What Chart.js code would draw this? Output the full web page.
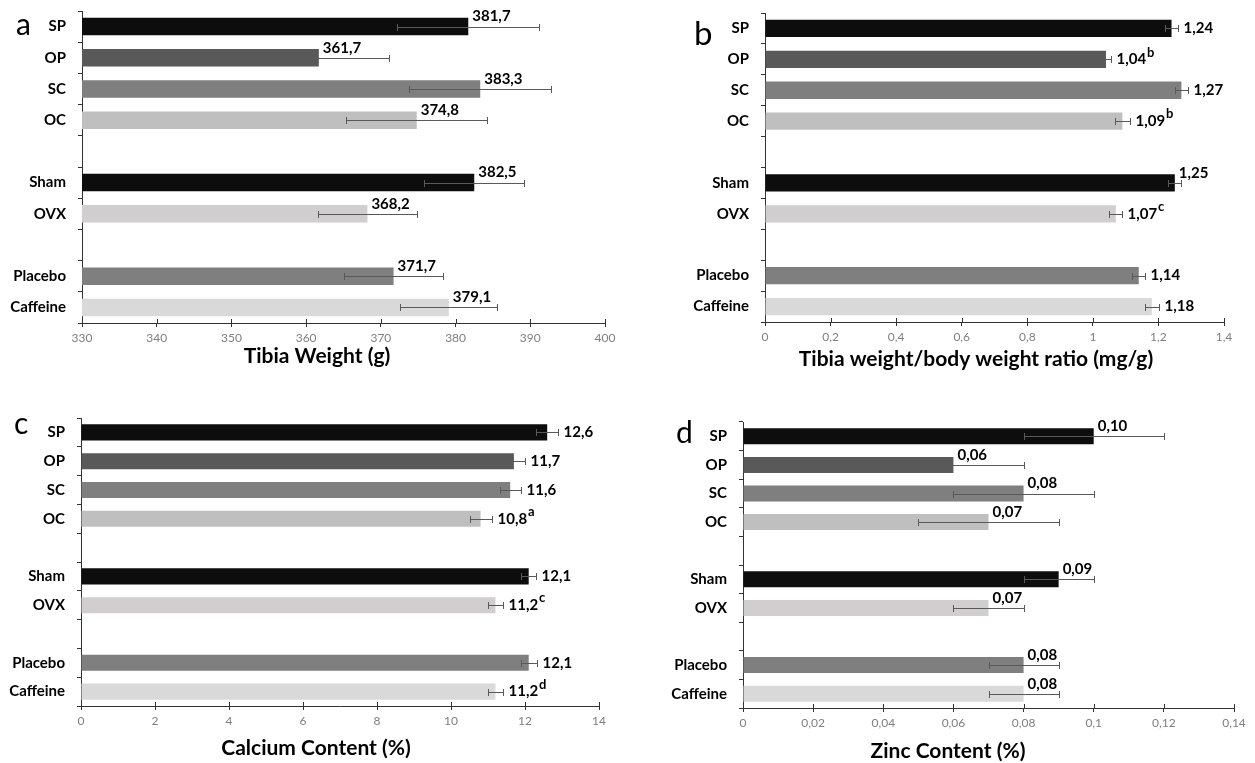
<!DOCTYPE html>
<html>
<head>
<meta charset="utf-8">
<script src="https://cdn.jsdelivr.net/npm/chart.js@4.4.1/dist/chart.umd.min.js"></script>
<style>
  body { margin: 0; background: #fff; width: 1255px; height: 763px; overflow: hidden; }
  .panel { position: absolute; }
</style>
</head>
<body>
<div class="panel" style="left:0;top:0"><canvas id="chartA" width="627" height="385"></canvas></div>
<div class="panel" style="left:627px;top:0"><canvas id="chartB" width="628" height="385"></canvas></div>
<div class="panel" style="left:0;top:385px"><canvas id="chartC" width="627" height="378"></canvas></div>
<div class="panel" style="left:627px;top:385px"><canvas id="chartD" width="628" height="378"></canvas></div>
<script>
// groupes (les cases vides servent d'espace entre les blocs)
const groups = ['SP', 'OP', 'SC', 'OC', '', 'Sham', 'OVX', '', 'Placebo', 'Caffeine'];

// a - poids du tibia
const tibiaWeight = [381.7, 361.7, 383.3, 374.8, null, 382.5, 368.2, null, 371.7, 379.1];
const tibiaWeightErr = [9.5, 9.4, 9.5, 9.4, null, 6.7, 6.6, null, 6.6, 6.5];
const tibiaWeightTicks = [330, 340, 350, 360, 370, 380, 390, 400];

// b - ratio poids tibia / poids corporel
const tibiaRatio = [1.24, 1.04, 1.27, 1.09, null, 1.25, 1.07, null, 1.14, 1.18];
const tibiaRatioErr = [0.02, 0.015, 0.02, 0.022, null, 0.02, 0.02, null, 0.02, 0.022];
const tibiaRatioSup = ['', 'b', '', 'b', '', '', 'c', '', '', ''];
const tibiaRatioTicks = [0, 0.2, 0.4, 0.6, 0.8, 1, 1.2, 1.4];

// c - calcium
const calcium = [12.6, 11.7, 11.6, 10.8, null, 12.1, 11.2, null, 12.1, 11.2];
const calciumErr = [0.3, 0.3, 0.28, 0.3, null, 0.2, 0.2, null, 0.22, 0.2];
const calciumSup = ['', '', '', 'a', '', '', 'c', '', '', 'd'];
const calciumTicks = [0, 2, 4, 6, 8, 10, 12, 14];

// d - zinc
const zinc = [0.10, 0.06, 0.08, 0.07, null, 0.09, 0.07, null, 0.08, 0.08];
const zincErr = [0.02, 0.02, 0.02, 0.02, null, 0.01, 0.01, null, 0.01, 0.01];
const zincTicks = [0, 0.02, 0.04, 0.06, 0.08, 0.1, 0.12, 0.14];

const barColors = ['#0d0d0d', '#595959', '#7f7f7f', '#bfbfbf', null, '#0d0d0d', '#d0cece', null, '#7f7f7f', '#d9d9d9'];
const FONT = 'Lato, "Open Sans", sans-serif';

function comma(v) {
    return String(+v.toFixed(4)).replace('.', ',');
}

// barres d'erreur, valeurs, lettre du panneau et titre de l'axe
const panelExtras = {
    id: 'panelExtras',
    afterDatasetsDraw(chart, args, o) {
        const ctx = chart.ctx;
        const xs = chart.scales.x;
        const meta = chart.getDatasetMeta(0);
        const data = chart.data.datasets[0].data;
        ctx.save();

        // petites graduations au-dessus de l'axe x
        ctx.strokeStyle = '#333';
        ctx.lineWidth = 1;
        ctx.beginPath();
        xs.ticks.forEach(t => {
            const px = Math.round(xs.getPixelForValue(t.value)) + 0.5;
            ctx.moveTo(px, xs.top);
            ctx.lineTo(px, xs.top - 4);
        });
        ctx.stroke();

        data.forEach((v, i) => {
            if (v == null) return;
            const e = o.err[i];
            const cy = Math.round(meta.data[i].y) + 0.5;
            const x0 = Math.round(xs.getPixelForValue(v - e)) + 0.5;
            const x1 = Math.round(xs.getPixelForValue(v + e)) + 0.5;
            ctx.strokeStyle = '#595959';
            ctx.beginPath();
            ctx.moveTo(x0, cy); ctx.lineTo(x1, cy);
            ctx.moveTo(x0, cy - 3.5); ctx.lineTo(x0, cy + 3.5);
            ctx.moveTo(x1, cy - 3.5); ctx.lineTo(x1, cy + 3.5);
            ctx.stroke();

            const barEnd = xs.getPixelForValue(v);
            let tx, ty;
            if (o.mode === 'top' || (o.above || []).includes(i)) {
                tx = barEnd + 4;
                ty = meta.data[i].y - 10;
            } else {
                tx = x1 + 5;
                ty = meta.data[i].y;
            }
            const txt = v.toFixed(o.digits).replace('.', ',');
            ctx.fillStyle = '#000';
            ctx.font = 'bold 15px ' + FONT;
            ctx.textAlign = 'left';
            ctx.textBaseline = 'middle';
            ctx.fillText(txt, tx, ty);
            const sup = (o.sup || [])[i];
            if (sup) {
                const w = ctx.measureText(txt).width;
                ctx.font = 'bold 13px ' + FONT;
                ctx.fillText(sup, tx + w + 1, ty - 7);
            }
        });

        ctx.fillStyle = '#000';
        ctx.textBaseline = 'alphabetic';
        ctx.textAlign = 'left';
        ctx.font = o.letterSize + 'px ' + FONT;
        ctx.fillText(o.letter, o.letterX, o.letterY);

        ctx.textAlign = 'center';
        ctx.font = 'bold 21px ' + FONT;
        ctx.fillText(o.title, o.titleX, o.titleY);
        ctx.restore();
    }
};

function makePanel(id, values, ticks, box, extras) {
    return new Chart(document.getElementById(id), {
        type: 'bar',
        data: {
            labels: groups,
            datasets: [{
                data: values,
                backgroundColor: barColors,
                barPercentage: 0.56,
                categoryPercentage: 1
            }]
        },
        options: {
            indexAxis: 'y',
            responsive: false,
            animation: false,
            layout: { padding: { top: box.top, right: box.right, left: 0, bottom: 0 } },
            plugins: {
                legend: { display: false },
                tooltip: { enabled: false },
                panelExtras: extras
            },
            scales: {
                x: {
                    min: ticks[0],
                    max: ticks[ticks.length - 1],
                    afterBuildTicks: s => { s.ticks = ticks.map(v => ({ value: v })); },
                    afterFit: s => { s.height = box.xHeight; s.paddingLeft = 0; s.paddingRight = 0; },
                    grid: { drawOnChartArea: false, tickLength: 4, color: '#333' },
                    border: { color: '#333' },
                    ticks: {
                        font: { family: FONT, size: 12 },
                        color: '#7f7f7f',
                        padding: 4,
                        maxRotation: 0,
                        callback: v => comma(v)
                    }
                },
                y: {
                    afterFit: s => { s.width = box.yWidth; s.paddingTop = 0; s.paddingBottom = 0; },
                    grid: { drawOnChartArea: false, tickLength: 4, color: '#333', offset: true },
                    border: { color: '#333' },
                    ticks: {
                        font: { family: FONT, size: 15, weight: 'bold' },
                        color: '#000',
                        padding: 12
                    }
                }
            }
        },
        plugins: [panelExtras]
    });
}

makePanel('chartA', tibiaWeight, tibiaWeightTicks,
    { top: 11, right: 22, yWidth: 82, xHeight: 62 },
    { err: tibiaWeightErr, digits: 1, mode: 'top',
      letter: 'a', letterX: 16, letterY: 35, letterSize: 30,
      title: 'Tibia Weight (g)', titleX: 317, titleY: 363 });

makePanel('chartB', tibiaRatio, tibiaRatioTicks,
    { top: 13, right: 31, yWidth: 138, xHeight: 63 },
    { err: tibiaRatioErr, sup: tibiaRatioSup, digits: 2, mode: 'side', above: [5],
      letter: 'b', letterX: 67, letterY: 45, letterSize: 33,
      title: 'Tibia weight/body weight ratio (mg/g)', titleX: 349, titleY: 366 });

makePanel('chartC', calcium, calciumTicks,
    { top: 33, right: 28, yWidth: 81, xHeight: 57 },
    { err: calciumErr, sup: calciumSup, digits: 1, mode: 'side',
      letter: 'c', letterX: 14, letterY: 49, letterSize: 30,
      title: 'Calcium Content (%)', titleX: 316, titleY: 370 });

makePanel('chartD', zinc, zincTicks,
    { top: 37, right: 21, yWidth: 116, xHeight: 55 },
    { err: zincErr, digits: 2, mode: 'top',
      letter: 'd', letterX: 49, letterY: 58, letterSize: 30,
      title: 'Zinc Content (%)', titleX: 321, titleY: 373 });
</script>
</body>
</html>
